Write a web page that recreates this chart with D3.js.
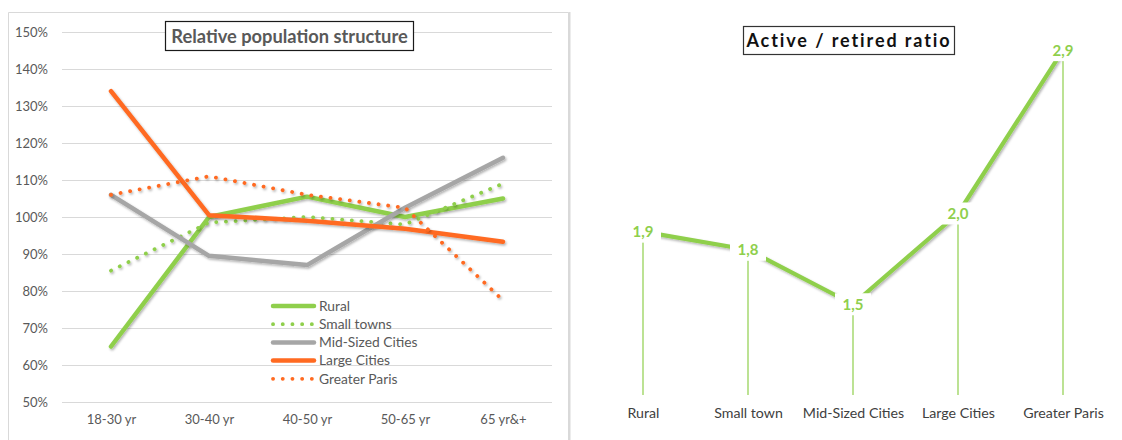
<!DOCTYPE html>
<html>
<head>
<meta charset="utf-8">
<script src="https://cdn.jsdelivr.net/npm/d3@7"></script>
<style>
  html, body { margin: 0; padding: 0; background: #fff; }
  svg { display: block; font-family: Lato, "Open Sans", sans-serif; }
</style>
</head>
<body>
<svg id="chart" width="1122" height="440"></svg>
<script>
// ---- Relative population structure (share vs. national average) ----
const ageGroups = ["18-30 yr", "30-40 yr", "40-50 yr", "50-65 yr", "65 yr&+"];
const pctTicks = [0.5, 0.6, 0.7, 0.8, 0.9, 1.0, 1.1, 1.2, 1.3, 1.4, 1.5];
const seriesNames = ["Rural", "Small towns", "Mid-Sized Cities", "Large Cities", "Greater Paris"];
const rural        = [0.65, 1.00, 1.055, 1.00, 1.05];
const smallTowns   = [0.855, 0.985, 1.00, 0.98, 1.09];
const midSized     = [1.06, 0.895, 0.87, 1.025, 1.16];
const largeCities  = [1.34, 1.005, 0.99, 0.968, 0.933];
const greaterParis = [1.06, 1.11, 1.06, 1.025, 0.775];

// ---- Active / retired ratio ----
const areaTypes = ["Rural", "Small town", "Mid-Sized Cities", "Large Cities", "Greater Paris"];
const ratios = [1.9, 1.8, 1.5, 2.0, 2.9];

const GREEN = "#8fcf4c", ORANGE = "#ff6a21", GREY = "#a6a6a6";
const TEXT = "#595959";

const svg = d3.select("#chart");
const defs = svg.append("defs");
const shadow = defs.append("filter").attr("id", "shadow")
  .attr("x", "-10%").attr("y", "-10%").attr("width", "130%").attr("height", "130%");
shadow.append("feDropShadow").attr("dx", 1.2).attr("dy", 1.6)
  .attr("stdDeviation", 1).attr("flood-color", "#000").attr("flood-opacity", 0.3);

// ===================== left panel =====================
const left = svg.append("g");
// panel frame
left.append("path")
  .attr("d", "M8.5,445 V12.5 H568.5 V445")
  .attr("fill", "none").attr("stroke", "#d9d9d9").attr("stroke-width", 1);
left.append("line").attr("x1", 569.5).attr("x2", 569.5).attr("y1", 12).attr("y2", 445)
  .attr("stroke", "#d9d9d9").attr("stroke-width", 2);

const x1 = d3.scalePoint().domain(ageGroups).range([62, 552]).padding(0.5);
const y1 = d3.scaleLinear().domain([0.5, 1.5]).range([402, 32]);

// gridlines
left.append("g")
  .attr("transform", "translate(62,0)")
  .call(d3.axisRight(y1).tickValues(pctTicks).tickSize(490).tickFormat(""))
  .call(g => g.select(".domain").remove())
  .call(g => g.selectAll("line").attr("stroke", "#d9d9d9").attr("stroke-width", 1.2));

// y-axis labels
left.append("g")
  .attr("transform", "translate(62,0)")
  .call(d3.axisLeft(y1).tickValues(pctTicks).tickSize(0).tickPadding(14).tickFormat(d3.format(".0%")))
  .call(g => g.select(".domain").remove())
  .call(g => g.selectAll("text").attr("fill", TEXT).attr("font-size", 13)
    .attr("font-family", "Lato, sans-serif"));

// x-axis labels
left.append("g")
  .attr("transform", "translate(0,402)")
  .call(d3.axisBottom(x1).tickSize(0).tickPadding(13))
  .call(g => g.select(".domain").remove())
  .call(g => g.selectAll("text").attr("fill", TEXT).attr("font-size", 13)
    .attr("font-family", "Lato, sans-serif"));

const seriesData = [rural, smallTowns, midSized, largeCities, greaterParis];
const seriesStyle = [
  { color: GREEN,  dotted: false },
  { color: GREEN,  dotted: true },
  { color: GREY,   dotted: false },
  { color: ORANGE, dotted: false },
  { color: ORANGE, dotted: true }
];
const line1 = d3.line().x((d, i) => x1(ageGroups[i])).y(d => y1(d));

function styleStroke(sel, s) {
  sel.attr("fill", "none").attr("stroke", s.color)
    .attr("stroke-linecap", "round").attr("stroke-linejoin", "round");
  if (s.dotted) sel.attr("stroke-width", 3.8).attr("stroke-dasharray", "0.1 9.6");
  else sel.attr("stroke-width", 4.5);
}

seriesData.forEach((vals, k) => {
  left.append("path").datum(vals).attr("d", line1)
    .call(styleStroke, seriesStyle[k]).attr("filter", "url(#shadow)");
});

// legend
const legend = left.append("g").attr("transform", "translate(272,306)");
seriesNames.forEach((name, k) => {
  const row = legend.append("g").attr("transform", `translate(0,${k * 18.2})`);
  row.append("line").attr("x1", 1).attr("x2", 42).attr("y1", 0).attr("y2", 0)
    .call(styleStroke, seriesStyle[k]);
  row.append("text").attr("x", 47).attr("y", 0).attr("dy", "0.35em")
    .attr("fill", TEXT).attr("font-size", 13.8).text(name);
});

// title box
const t1 = left.append("g");
t1.append("rect").attr("x", 165.5).attr("y", 21.5).attr("width", 248).attr("height", 29)
  .attr("fill", "#fff").attr("stroke", "#1a1a1a").attr("stroke-width", 1.2);
t1.append("text").attr("x", 289.5).attr("y", 36).attr("dy", "0.36em")
  .attr("text-anchor", "middle").attr("font-size", 18.3).attr("font-weight", 700)
  .attr("fill", TEXT).text("Relative population structure");

// ===================== right panel =====================
const right = svg.append("g");
const x2 = d3.scalePoint().domain(areaTypes).range([590.5, 1115.5]).padding(0.5);
const y2 = d3.scaleLinear().domain([1, 3]).range([395, 32]);

// drop lines
right.append("g").selectAll("line").data(ratios).join("line")
  .attr("x1", (d, i) => x2(areaTypes[i])).attr("x2", (d, i) => x2(areaTypes[i]))
  .attr("y1", d => y2(d)).attr("y2", y2(1))
  .attr("stroke", GREEN).attr("stroke-width", 1.2);

// ratio line
right.append("path").datum(ratios)
  .attr("d", d3.line().x((d, i) => x2(areaTypes[i])).y(d => y2(d)))
  .attr("fill", "none").attr("stroke", GREEN).attr("stroke-width", 4.2)
  .attr("stroke-linejoin", "round").attr("filter", "url(#shadow)");

// value labels on white patches
const fmt = d3.formatLocale({ decimal: ",", thousands: " ", grouping: [3], currency: ["", ""] }).format(".1f");
const labels = right.append("g").selectAll("g").data(ratios).join("g")
  .attr("transform", (d, i) => `translate(${x2(areaTypes[i])},${y2(d)})`);
labels.append("rect").attr("x", -18).attr("y", -11).attr("width", 36).attr("height", 22)
  .attr("fill", "#fff");
labels.append("text").attr("text-anchor", "middle").attr("dy", "0.36em")
  .attr("font-size", 15).attr("font-weight", 700).attr("fill", GREEN)
  .text(d => fmt(d));

// category labels
right.append("g")
  .attr("transform", "translate(0,395)")
  .call(d3.axisBottom(x2).tickSize(0).tickPadding(13))
  .call(g => g.select(".domain").remove())
  .call(g => g.selectAll("text").attr("fill", "#404040").attr("font-size", 14.2)
    .attr("font-family", "Lato, sans-serif"));

// title box
const t2 = right.append("g");
t2.append("rect").attr("x", 743.5).attr("y", 26.5).attr("width", 211).attr("height", 28)
  .attr("fill", "#fff").attr("stroke", "#333").attr("stroke-width", 1.2);
t2.append("text").attr("x", 849).attr("y", 41).attr("dy", "0.36em")
  .attr("text-anchor", "middle").attr("font-size", 18).attr("font-weight", 700)
  .attr("letter-spacing", 1.9).attr("fill", "#111").text("Active / retired ratio");
</script>
</body>
</html>
